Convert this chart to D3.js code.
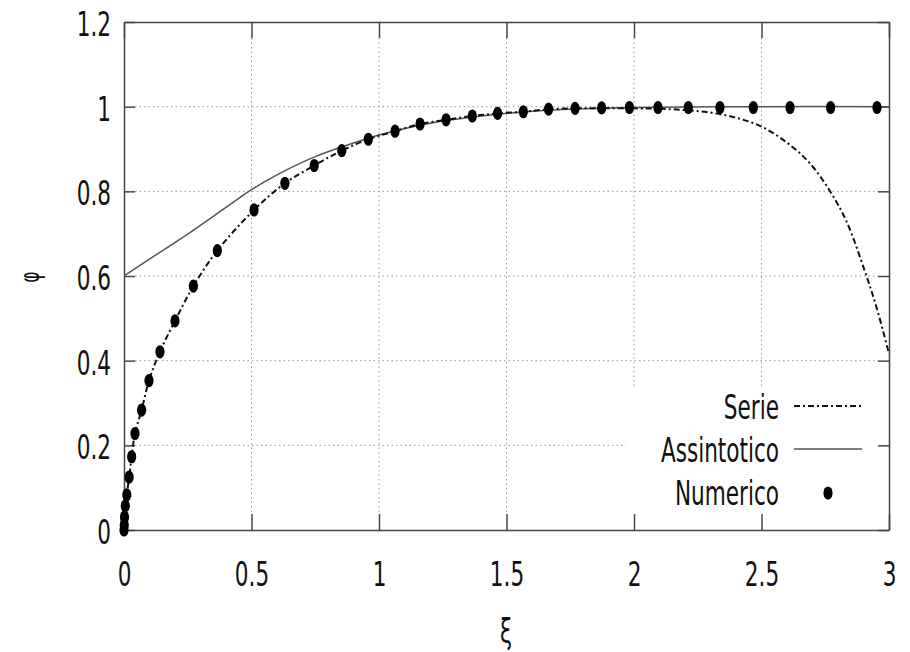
<!DOCTYPE html>
<html>
<head>
<meta charset="utf-8">
<script src="https://cdn.jsdelivr.net/npm/d3@7"></script>
<style>
    body { margin: 0; background: #fff; }
    svg text { font-family: 'DejaVu Sans Condensed', 'DejaVu Sans', sans-serif; font-stretch: condensed; fill: #111; }
</style>
</head>
<body>
<svg id="chart" width="910" height="652"></svg>
<script>
'use strict';

// numeric solution (dots)
const numXi = [0, 0.001, 0.002, 0.005, 0.011, 0.02, 0.03, 0.043, 0.069, 0.098, 0.141, 0.2, 0.272, 0.366, 0.51, 0.631, 0.746, 0.854,
    0.958, 1.063, 1.161, 1.263, 1.366, 1.465, 1.566, 1.665, 1.769, 1.873, 1.982, 2.094, 2.213, 2.337, 2.468, 2.612, 2.771, 2.953];
const numPhi = [0, 0.012, 0.031, 0.057, 0.083, 0.125, 0.173, 0.228, 0.283, 0.353, 0.421, 0.494, 0.576, 0.66, 0.756, 0.819, 0.861, 0.896,
    0.923, 0.942, 0.959, 0.969, 0.978, 0.984, 0.988, 0.994, 0.996, 0.997, 0.998, 0.998, 0.998, 0.998, 0.998, 0.998, 0.998, 0.998];

// series expansion (dash-dot)
const serieXi = [0, 0.002, 0.005, 0.011, 0.02, 0.03, 0.043, 0.069, 0.098, 0.141, 0.2, 0.272, 0.366, 0.51, 0.631, 0.746, 0.854,
    0.958, 1.063, 1.161, 1.263, 1.366, 1.465, 1.566, 1.665, 1.769, 1.873, 2.0, 2.1, 2.2, 2.3, 2.4, 2.5, 2.6, 2.69, 2.77, 2.834, 2.906, 2.952, 3.0];
const seriePhi = [0, 0.031, 0.057, 0.083, 0.125, 0.173, 0.228, 0.283, 0.353, 0.421, 0.494, 0.576, 0.66, 0.756, 0.819, 0.861, 0.896,
    0.923, 0.942, 0.959, 0.969, 0.978, 0.984, 0.988, 0.994, 0.996, 0.996, 0.996, 0.995, 0.992, 0.986, 0.974, 0.953, 0.915, 0.866, 0.799, 0.728, 0.61, 0.524, 0.416];

// asymptotic solution (solid grey)
const asyXi = [0, 0.1, 0.25, 0.4, 0.5, 0.6, 0.75, 0.9, 1.0, 1.2, 1.4, 1.6, 1.8, 2.0, 2.5, 3.0];
const asyPhi = [0.6, 0.64, 0.699, 0.762, 0.804, 0.839, 0.882, 0.914, 0.933, 0.961, 0.978, 0.989, 0.995, 0.998, 1.0, 1.0];

const xTicks = [0, 0.5, 1, 1.5, 2, 2.5, 3];
const yTicks = [0, 0.2, 0.4, 0.6, 0.8, 1, 1.2];
const legendLabels = ['Serie', 'Assintotico', 'Numerico'];

const svg = d3.select('#chart');
const plotLeft = 124, plotRight = 889, plotTop = 22, plotBottom = 530;
const stretch = 1.4;   // glyphs in the picture are drawn tall
const fontSize = 24;

const x = d3.scaleLinear().domain([0, 3]).range([plotLeft, plotRight]);
const y = d3.scaleLinear().domain([0, 1.2]).range([plotBottom, plotTop]);

svg.append('defs').append('clipPath').attr('id', 'plotClip')
    .append('rect')
    .attr('x', plotLeft).attr('y', plotTop)
    .attr('width', plotRight - plotLeft).attr('height', plotBottom - plotTop);

// grid
const grid = svg.append('g').attr('stroke', '#999').attr('stroke-width', 1).attr('stroke-dasharray', '1.5,3');
grid.selectAll('line.gx').data(xTicks.slice(1, -1)).enter().append('line')
    .attr('x1', d => x(d)).attr('x2', d => x(d))
    .attr('y1', plotTop + 16).attr('y2', plotBottom - 16);
grid.selectAll('line.gy').data(yTicks.slice(1, -1)).enter().append('line')
    .attr('y1', d => y(d)).attr('y2', d => y(d))
    .attr('x1', plotLeft + 11).attr('x2', plotRight - 11);

// legend background hides the grid
svg.append('rect')
    .attr('x', 626).attr('y', 388)
    .attr('width', plotRight - 626).attr('height', plotBottom - 388)
    .attr('fill', '#fff');

// axes with inward ticks
function styleAxis(g) {
    g.selectAll('path, line').attr('stroke', '#444').attr('stroke-width', 1.5);
}

const axBottom = svg.append('g').attr('transform', `translate(0,${plotBottom})`)
    .call(d3.axisBottom(x).tickValues(xTicks).tickFormat(d3.format('')).tickSize(-16).tickSizeOuter(0).tickPadding(23));
const axTop = svg.append('g').attr('transform', `translate(0,${plotTop})`)
    .call(d3.axisTop(x).tickValues(xTicks).tickFormat('').tickSize(-16).tickSizeOuter(0));
const axLeft = svg.append('g').attr('transform', `translate(${plotLeft},0)`)
    .call(d3.axisLeft(y).tickValues(yTicks).tickFormat(d3.format('')).tickSize(-11).tickSizeOuter(0).tickPadding(13));
const axRight = svg.append('g').attr('transform', `translate(${plotRight},0)`)
    .call(d3.axisRight(y).tickValues(yTicks).tickFormat('').tickSize(-11).tickSizeOuter(0));

[axBottom, axTop, axLeft, axRight].forEach(g => {
    styleAxis(g);
    g.attr('font-family', null).attr('font-size', null);
    g.selectAll('text')
        .attr('font-size', fontSize)
        .attr('transform', `scale(1,${stretch})`);
});
axLeft.selectAll('text').attr('dy', '0.4em');

// curves
const plot = svg.append('g').attr('clip-path', 'url(#plotClip)');

const asyLine = d3.line().x(i => x(asyXi[i])).y(i => y(asyPhi[i])).curve(d3.curveCatmullRom.alpha(0.5));
plot.append('path')
    .attr('d', asyLine(d3.range(asyXi.length)))
    .attr('fill', 'none')
    .attr('stroke', '#555')
    .attr('stroke-width', 1.5);

const serieLine = d3.line().x(i => x(serieXi[i])).y(i => y(seriePhi[i])).curve(d3.curveCatmullRom.alpha(0.5));
plot.append('path')
    .attr('d', serieLine(d3.range(serieXi.length)))
    .attr('fill', 'none')
    .attr('stroke', '#111')
    .attr('stroke-width', 2)
    .attr('stroke-dasharray', '6,3,2,3');

svg.append('g').selectAll('ellipse').data(d3.range(numXi.length)).enter().append('ellipse')
    .attr('cx', i => x(numXi[i]))
    .attr('cy', i => y(numPhi[i]))
    .attr('rx', 4.6)
    .attr('ry', 6.6)
    .attr('fill', '#000');

// legend
const legend = svg.append('g');
const legendBase = [419, 462, 505];
legendLabels.forEach((label, i) => {
    legend.append('text')
        .attr('transform', `translate(779,${legendBase[i]}) scale(1,${stretch})`)
        .attr('text-anchor', 'end')
        .attr('font-size', fontSize)
        .text(label);
});
const ly = legendBase.map(b => b - 13);
legend.append('line')
    .attr('x1', 794).attr('x2', 862).attr('y1', ly[0]).attr('y2', ly[0])
    .attr('stroke', '#111').attr('stroke-width', 2).attr('stroke-dasharray', '6,3,2,3');
legend.append('line')
    .attr('x1', 794).attr('x2', 862).attr('y1', ly[1]).attr('y2', ly[1])
    .attr('stroke', '#555').attr('stroke-width', 1.5);
legend.append('ellipse')
    .attr('cx', 828).attr('cy', ly[2] + 1).attr('rx', 4.6).attr('ry', 6.6).attr('fill', '#000');

// axis titles
svg.append('text')
    .attr('transform', `translate(506,643) scale(1,${stretch})`)
    .attr('text-anchor', 'middle')
    .attr('font-size', fontSize)
    .text('ξ');
svg.append('text')
    .attr('transform', `translate(30,277) scale(${stretch},1) rotate(-90)`)
    .attr('text-anchor', 'middle')
    .attr('dy', '0.35em')
    .attr('font-size', 19)
    .text('φ');
</script>
</body>
</html>
